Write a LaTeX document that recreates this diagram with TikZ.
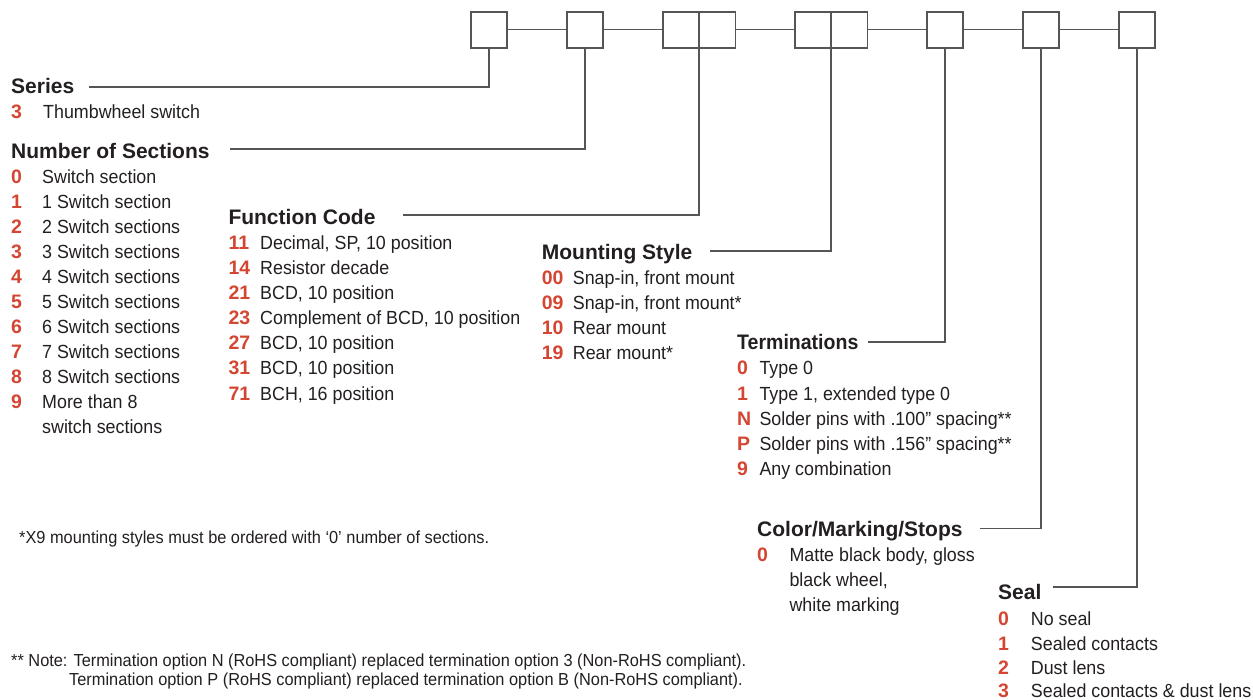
\documentclass[tikz,border=0pt]{standalone}
\usepackage{fontspec}
\setmainfont{Liberation Sans}
\newfontfamily\condfont[FakeStretch=0.94]{Liberation Sans}
\newfontfamily\condbold[FakeStretch=0.93]{Liberation Sans Bold}
\newcommand\myhd{\fontsize{21}{25}\selectfont\bfseries}
\newcommand\myhdc{\condbold\fontsize{21}{25}\selectfont}
\newcommand\mynum{\fontsize{19.5}{23}\selectfont\bfseries}
\newcommand\mybody{\condfont\fontsize{19}{25}\selectfont}
\newcommand\myfoot{\condfont\fontsize{17.4}{20}\selectfont}
\definecolor{ink}{RGB}{35,31,32}
\definecolor{codered}{RGB}{212,69,50}
\definecolor{linegray}{RGB}{85,85,85}
\tikzset{
  hd/.style={inner sep=0pt, anchor=base west, font=\myhd, text=ink},
  num/.style={inner sep=0pt, anchor=base west, font=\mynum, text=codered},
  itm/.style={inner sep=0pt, anchor=base west, font=\mybody, text=ink},
  foot/.style={inner sep=0pt, anchor=base west, font=\myfoot, text=ink},
  digitbox/.style={draw=linegray, line width=1.9pt, minimum width=36.6pt, minimum height=36pt, inner sep=0pt, outer sep=0pt, fill=white},
  conn/.style={draw=linegray, line width=1.5pt},
}
\begin{document}
\begin{tikzpicture}[x=1pt,y=-1pt]
\useasboundingbox (0,0) rectangle (1253,700);
% boxes
\node[digitbox] (b1) at (489,29.7) {};
\node[digitbox] (b2) at (585,29.7) {};
\node[digitbox] (b3a) at (680.85,29.7) {};
\node[digitbox] (b3b) at (717.15,29.7) {};
\node[digitbox] (b4a) at (812.85,29.7) {};
\node[digitbox] (b4b) at (849.15,29.7) {};
\node[digitbox] (b5) at (945,29.7) {};
\node[digitbox] (b6) at (1041,29.7) {};
\node[digitbox] (b7) at (1137,29.7) {};
\draw[conn] (b1.east) -- (b2.west);
\draw[conn] (b2.east) -- (b3a.west);
\draw[conn] (b3b.east) -- (b4a.west);
\draw[conn] (b4b.east) -- (b5.west);
\draw[conn] (b5.east) -- (b6.west);
\draw[conn] (b6.east) -- (b7.west);

% Series
\node[hd] (hser) at (11,94) {Series};
\node[num] (ser3) at (11,118.3) {3};
\node[itm] (ser3t) at (43,118.3) {Thumbwheel switch};
\coordinate (cser) at (89,87);
\draw[conn] (cser) -| (b1.south);

% Number of sections
\node[hd] (hnum) at (11,158.3) {Number of Sections};
\coordinate (cnum) at (230,149);
\draw[conn] (cnum) -| (b2.south);
\foreach \n/\t [count=\k from 0] in {0/Switch section,1/1 Switch section,2/2 Switch sections,3/3 Switch sections,4/4 Switch sections,5/5 Switch sections,6/6 Switch sections,7/7 Switch sections,8/8 Switch sections,9/More than 8}{
  \node[num] (ns\k) at (11,183.3+25*\k) {\n};
  \node[itm] (nst\k) at (42,183.3+25*\k) {\t};
}
\node[itm] (nst9b) at (42,433.3) {switch sections};

% Function code
\node[hd] (hfun) at (228.3,225) {Function Code};
\coordinate (cfun) at (403,215);
\draw[conn] (cfun) -| (b3a.south east);
\foreach \n/\t [count=\k from 0] in {11/{Decimal, SP, 10 position},14/Resistor decade,21/{BCD, 10 position},23/{Complement of BCD, 10 position},27/{BCD, 10 position},31/{BCD, 10 position},71/{BCH, 16 position}}{
  \node[num] (fc\k) at (228.3,250+25*\k) {\n};
  \node[itm] (fct\k) at (260,250+25*\k) {\t};
}

% Mounting style
\node[hd] (hmnt) at (541.7,259.3) {Mounting Style};
\coordinate (cmnt) at (710,251);
\draw[conn] (cmnt) -| (b4a.south east);
\foreach \n/\t [count=\k from 0] in {00/{Snap-in, front mount},09/{Snap-in, front mount*},10/Rear mount,19/Rear mount*}{
  \node[num] (ms\k) at (541.7,285+25*\k) {\n};
  \node[itm] (mst\k) at (572.7,285+25*\k) {\t};
}

% Terminations
\node[hd, font=\myhdc] (hter) at (737,349.3) {Terminations};
\coordinate (cter) at (868,342);
\draw[conn] (cter) -| (b5.south);
\foreach \n/\t [count=\k from 0] in {0/Type 0,1/{Type 1, extended type 0},N/Solder pins with .100” spacing**,P/Solder pins with .156” spacing**,9/Any combination}{
  \node[num] (te\k) at (737,375+25*\k) {\n};
  \node[itm] (tet\k) at (759.3,375+25*\k) {\t};
}

% Color / Marking / Stops
\node[hd] (hcol) at (757,536) {Color/Marking/Stops};
\coordinate (ccol) at (980,528.5);
\draw[conn] (ccol) -| (b6.south);
\node[num] (co0) at (757,561.7) {0};
\node[itm] (cot0) at (789.3,561.7) {Matte black body, gloss};
\node[itm] (cot1) at (789.3,586.7) {black wheel,};
\node[itm] (cot2) at (789.3,611.7) {white marking};

% Seal
\node[hd] (hseal) at (998,599) {Seal};
\coordinate (cseal) at (1053,587);
\draw[conn] (cseal) -| (b7.south);
\node[num] (se0) at (998,625) {0};
\node[itm] (set0) at (1030.7,625) {No seal};
\node[num] (se1) at (998,650) {1};
\node[itm] (set1) at (1030.7,650) {Sealed contacts};
\node[num] (se2) at (998,674.5) {2};
\node[itm] (set2) at (1030.7,674.5) {Dust lens};
\node[num] (se3) at (998,697.5) {3};
\node[itm] (set3) at (1030.7,697.5) {Sealed contacts \& dust lens};

% footnotes
\node[foot] (fn1) at (19,543.7) {*X9 mounting styles must be ordered with ‘0’ number of sections.};
\node[foot] (fn2) at (11,666) {** Note: Termination option N (RoHS compliant) replaced termination option 3 (Non-RoHS compliant).};
\node[foot] (fn3) at (69,685) {Termination option P (RoHS compliant) replaced termination option B (Non-RoHS compliant).};
\end{tikzpicture}
\end{document}
